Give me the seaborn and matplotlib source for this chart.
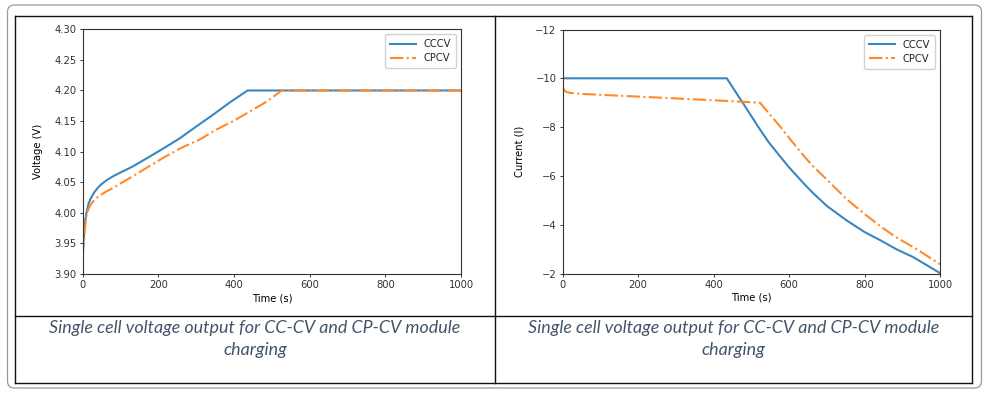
import pandas as pd
import seaborn as sns
import matplotlib.pyplot as plt
from matplotlib.lines import Line2D
from matplotlib.patches import FancyBboxPatch
from matplotlib.transforms import IdentityTransform

# voltage curves
t_v_cccv = [0, 3, 6, 10, 15, 20, 30, 40, 50, 65, 81, 100, 130, 169, 210, 257, 300, 346, 390, 436, 1000]
v_cccv = [3.94, 3.96, 3.985, 4.00, 4.014, 4.022, 4.033, 4.041, 4.047, 4.054, 4.06, 4.066,
          4.075, 4.089, 4.104, 4.122, 4.141, 4.161, 4.181, 4.20, 4.20]
t_v_cpcv = [0, 3, 6, 10, 15, 20, 28, 40, 60, 81, 100, 125, 170, 213, 260, 310, 350, 398, 440,
            487, 526, 1000]
v_cpcv = [3.93, 3.95, 3.975, 3.995, 4.006, 4.012, 4.019, 4.026, 4.034, 4.041, 4.048, 4.057,
          4.074, 4.09, 4.106, 4.12, 4.135, 4.15, 4.165, 4.182, 4.20, 4.20]

# current curves
t_i_cccv = [0, 435, 455, 475, 500, 520, 545, 576, 600, 640, 664, 700, 753, 800, 841, 885,
            929, 965, 1000]
i_cccv = [-10, -10, -9.52, -9.05, -8.45, -7.97, -7.4, -6.8, -6.35, -5.67, -5.29, -4.77,
          -4.17, -3.7, -3.37, -2.99, -2.67, -2.34, -2.02]
t_i_cpcv = [0, 5, 10, 20, 50, 200, 400, 523, 550, 576, 600, 640, 664, 700, 753, 800, 841,
            880, 929, 965, 1000]
i_cpcv = [-9.62, -9.5, -9.44, -9.4, -9.36, -9.25, -9.1, -9.0, -8.5, -8.03, -7.56, -6.8,
          -6.39, -5.85, -5.04, -4.44, -3.95, -3.52, -3.08, -2.73, -2.38]

volt_ticks = [3.90, 3.95, 4.00, 4.05, 4.10, 4.15, 4.20, 4.25, 4.30]
curr_ticks = [-12, -10, -8, -6, -4, -2]
time_ticks = [0, 200, 400, 600, 800, 1000]
caption = ["Single cell voltage output for CC-CV and CP-CV module", "charging"]

plt.rcParams.update({
    "font.size": 7.2,
    "axes.linewidth": 0.8,
    "axes.edgecolor": "#333333",
    "xtick.major.size": 2.5,
    "ytick.major.size": 2.5,
    "xtick.major.width": 0.7,
    "ytick.major.width": 0.7,
    "xtick.major.pad": 2,
    "ytick.major.pad": 2,
    "xtick.color": "#333333",
    "ytick.color": "#333333",
    "text.color": "#222222",
})

W, H = 986, 398
fig = plt.figure(figsize=(W / 100, H / 100), dpi=100)


def box(x0, y0, x1, y1):
    return [x0 / W, 1 - y1 / H, (x1 - x0) / W, (y1 - y0) / H]


ax1 = fig.add_axes(box(82.7, 29.3, 461, 274))
ax2 = fig.add_axes(box(562.7, 29.5, 940, 273.5))

blue, orange = "#3a87c0", "#ff8a2a"

sns.lineplot(x=t_v_cccv, y=v_cccv, ax=ax1, color=blue, lw=1.5, label="CCCV")
sns.lineplot(x=t_v_cpcv, y=v_cpcv, ax=ax1, color=orange, lw=1.5, linestyle="-.", label="CPCV")
ax1.set_xlim(0, 1000)
ax1.set_ylim(3.90, 4.30)
ax1.set_yticks(volt_ticks)
ax1.set_yticklabels([f"{v:.2f}" for v in volt_ticks])
ax1.set_xticks(time_ticks)
ax1.set_xlabel("Time (s)", labelpad=2)
ax1.set_ylabel("Voltage (V)", labelpad=8)

sns.lineplot(x=t_i_cccv, y=i_cccv, ax=ax2, color=blue, lw=1.5, label="CCCV")
sns.lineplot(x=t_i_cpcv, y=i_cpcv, ax=ax2, color=orange, lw=1.5, linestyle="-.", label="CPCV")
ax2.set_xlim(0, 1000)
ax2.set_ylim(-2, -12)
ax2.set_yticks(curr_ticks)
ax2.set_xticks(time_ticks)
ax2.set_xlabel("Time (s)", labelpad=2)
ax2.set_ylabel("Current (I)", labelpad=8)

for ax in (ax1, ax2):
    ax.legend(loc="upper right", fontsize=7.2, handlelength=2.6, borderpad=0.5,
              labelspacing=0.4, framealpha=0.9, edgecolor="#cccccc")

# table frame
def hline(y, x0, x1, **kw):
    fig.add_artist(Line2D([x0 / W, x1 / W], [1 - y / H, 1 - y / H], **kw))


def vline(x, y0, y1, **kw):
    fig.add_artist(Line2D([x / W, x / W], [1 - y0 / H, 1 - y1 / H], **kw))


lk = dict(color="#111111", lw=1.0)
hline(15.7, 14.7, 971.7, **lk)
hline(315.7, 14.7, 971.7, **lk)
hline(383.3, 14.7, 971.7, **lk)
vline(14.7, 15.7, 383.3, **lk)
vline(495, 15.7, 383.3, **lk)
vline(971.7, 15.7, 383.3, **lk)

outer = FancyBboxPatch((7.5, H - 388), 974, 383, boxstyle="round,pad=0,rounding_size=7",
                       transform=IdentityTransform(), fill=False, edgecolor="#9a9a9a", lw=0.9)
fig.add_artist(outer)

for cx in (255, 733.5):
    fig.text(cx / W, 1 - 333 / H, caption[0], ha="center", va="baseline", family="Lato",
             style="italic", fontsize=12.9, color="#44546a")
    fig.text(cx / W, 1 - 355 / H, caption[1], ha="center", va="baseline", family="Lato",
             style="italic", fontsize=12.9, color="#44546a")

fig.savefig("out.png", dpi=100, facecolor="white")
